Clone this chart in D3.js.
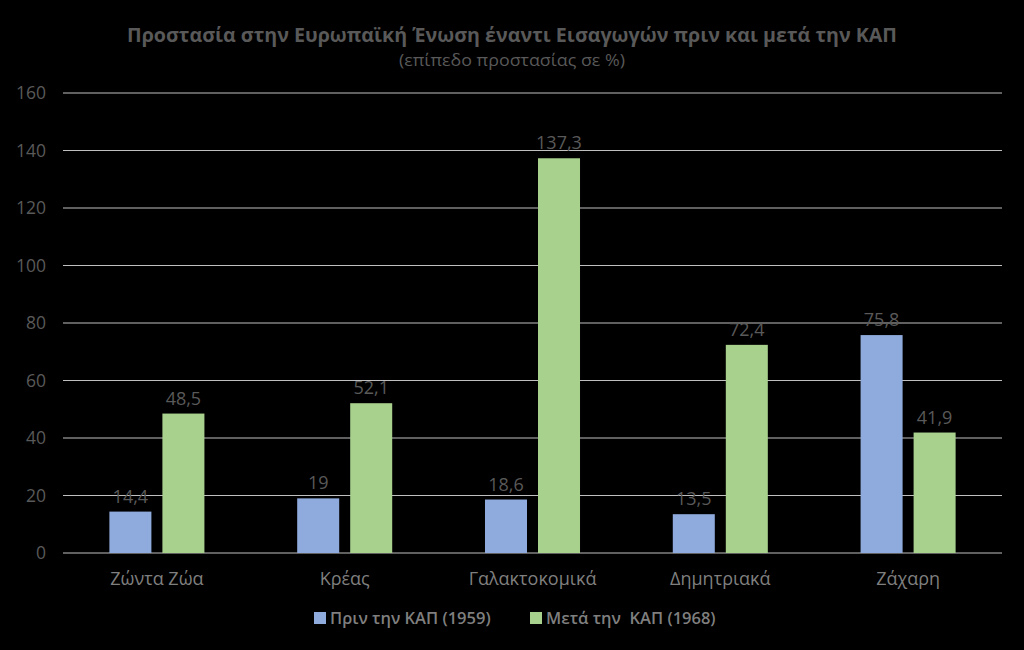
<!DOCTYPE html>
<html><head><meta charset="utf-8">
<script src="https://cdn.jsdelivr.net/npm/d3@7"></script>
<style>html,body{margin:0;padding:0;background:#000;}svg{display:block;}</style>
</head><body>
<svg id="chart" width="1024" height="650"></svg>
<script>
const categories = ["Ζώντα Ζώα","Κρέας","Γαλακτοκομικά","Δημητριακά","Ζάχαρη"];
const seriesNames = ["Πριν την ΚΑΠ (1959)","Μετά την  ΚΑΠ (1968)"];
const before1959 = [14.4, 19, 18.6, 13.5, 75.8];
const after1968 = [48.5, 52.1, 137.3, 72.4, 41.9];
const yTicks = [0,20,40,60,80,100,120,140,160];
const colors = ["#8faadc","#a9d18e"];

const svg = d3.select("#chart");
const W = 1024, H = 650;
svg.append("rect").attr("width",W).attr("height",H).attr("fill","#000");
const m = {left:63, right:1002, top:93, bottom:553};
const font = "'Open Sans', 'Noto Sans', sans-serif";

const x = d3.scaleBand().domain(categories).range([m.left, m.right]).paddingInner(0).paddingOuter(0);
const x1 = d3.scaleBand().domain([0,1]).range([0, x.bandwidth()]).paddingInner(0.2075).paddingOuter(0.875);
const y = d3.scaleLinear().domain([0,160]).range([m.bottom, m.top]);

// gridlines
svg.append("g").selectAll("line").data(yTicks).join("line")
  .attr("x1", m.left).attr("x2", m.right)
  .attr("y1", d=>y(d)).attr("y2", d=>y(d))
  .attr("stroke","#bfbfbf").attr("stroke-width",1.2);

// y axis labels
const yAxis = d3.axisLeft(y).tickValues(yTicks).tickSize(0).tickPadding(0);
const ga = svg.append("g").attr("transform",`translate(46,0)`).call(yAxis);
ga.select(".domain").remove();
ga.selectAll("text").attr("fill","#595959").attr("font-size",17.5).attr("font-family",font);

// title
svg.append("text").attr("x",512).attr("y",42).attr("text-anchor","middle")
  .attr("fill","#595959").attr("font-weight","bold").attr("font-size",20).attr("font-family",font)
  .attr("textLength",770).attr("lengthAdjust","spacingAndGlyphs")
  .text("Προστασία στην Ευρωπαϊκή Ένωση έναντι Εισαγωγών πριν και μετά την ΚΑΠ");
svg.append("text").attr("x",512).attr("y",66).attr("text-anchor","middle")
  .attr("fill","#595959").attr("font-size",17).attr("font-family",font)
  .attr("textLength",226).attr("lengthAdjust","spacingAndGlyphs")
  .text("(επίπεδο προστασίας σε %)");

const series = [before1959, after1968];
series.forEach((vals, si) => {
  const g = svg.append("g");
  g.selectAll("rect").data(vals).join("rect")
    .attr("x",(d,i)=>x(categories[i]) + x1(si))
    .attr("width", x1.bandwidth())
    .attr("y", d=>y(d)).attr("height", d=>y(0)-y(d))
    .attr("fill", colors[si]);
  g.selectAll("text").data(vals).join("text")
    .attr("x",(d,i)=>x(categories[i]) + x1(si) + x1.bandwidth()/2)
    .attr("y", d=>y(d)-9)
    .attr("text-anchor","middle").attr("fill","#595959")
    .attr("font-size",18).attr("font-family",font)
    .text(d=>String(d).replace(".",","));
});

// category labels
const xAxis = d3.axisBottom(x).tickSize(0).tickPadding(0);
const gx = svg.append("g").attr("transform",`translate(0,${m.bottom+19})`).call(xAxis);
gx.select(".domain").remove();
gx.selectAll("text").attr("fill","#7f7f7f").attr("font-size",18).attr("font-family",font).attr("dy","0.71em");

// legend
const legX = [314, 530];
seriesNames.forEach((n,i)=>{
  svg.append("rect").attr("x",legX[i]).attr("y",612).attr("width",12).attr("height",12).attr("fill",colors[i]);
  svg.append("text").attr("x",legX[i]+16).attr("y",624).attr("fill","#7f7f7f")
    .attr("font-size",16.5).attr("font-weight","600").attr("font-family",font)
    .style("white-space","pre").attr("xml:space","preserve").text(n);
});
</script>
</body></html>
